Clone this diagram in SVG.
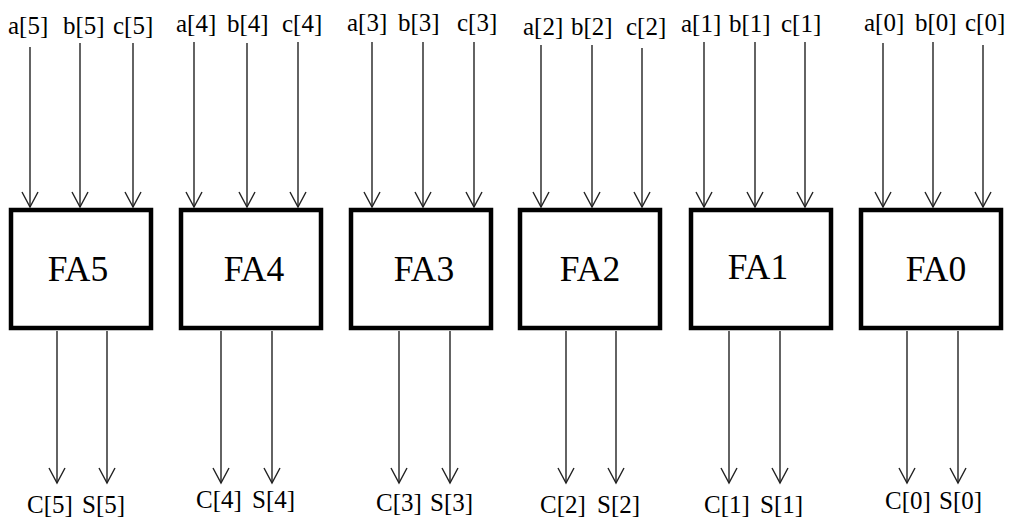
<svg xmlns="http://www.w3.org/2000/svg" width="1009" height="520" viewBox="0 0 1009 520">
  <style>
    .blk { fill: #fff; stroke: #000; stroke-width: 4.5; }
    .name { font-size: 35.5px; fill: #000; text-anchor: middle; }
    .lbl { font-size: 25px; fill: #000; }
    .wire { stroke: #222; stroke-width: 1.4; fill: none; marker-end: url(#arr); }
  </style>
  <defs>
    <marker id="arr" markerUnits="userSpaceOnUse" markerWidth="20" markerHeight="20" refX="0" refY="0" orient="auto" overflow="visible">
      <path d="M -15 -8 L 0 0 L -15 8" fill="none" stroke="#222" stroke-width="1.4"/>
    </marker>
  </defs>
  <rect width="1009" height="520" fill="#fff"/>

  <!-- signal wires: a, b, c into each adder; carry and sum out -->
  <g id="connectors">
    <line class="wire" x1="30" y1="47" x2="30" y2="207"/>
    <line class="wire" x1="80" y1="43" x2="80" y2="207"/>
    <line class="wire" x1="133" y1="43" x2="133" y2="207"/>
    <line class="wire" x1="194" y1="42" x2="194" y2="207"/>
    <line class="wire" x1="247" y1="43" x2="247" y2="207"/>
    <line class="wire" x1="298" y1="42" x2="298" y2="207"/>
    <line class="wire" x1="372" y1="42" x2="372" y2="207"/>
    <line class="wire" x1="423" y1="42" x2="423" y2="207"/>
    <line class="wire" x1="474" y1="42" x2="474" y2="207"/>
    <line class="wire" x1="541" y1="45" x2="541" y2="207"/>
    <line class="wire" x1="592" y1="45" x2="592" y2="207"/>
    <line class="wire" x1="642" y1="48" x2="642" y2="207"/>
    <line class="wire" x1="704" y1="42" x2="704" y2="207"/>
    <line class="wire" x1="755" y1="42" x2="755" y2="207"/>
    <line class="wire" x1="805" y1="42" x2="805" y2="207"/>
    <line class="wire" x1="883" y1="43" x2="883" y2="207"/>
    <line class="wire" x1="933" y1="42" x2="933" y2="207"/>
    <line class="wire" x1="983" y1="45" x2="983" y2="207"/>

    <line class="wire" x1="57" y1="331" x2="57" y2="483"/>
    <line class="wire" x1="107" y1="331" x2="107" y2="483"/>
    <line class="wire" x1="221" y1="331" x2="221" y2="483"/>
    <line class="wire" x1="272" y1="331" x2="272" y2="483"/>
    <line class="wire" x1="399" y1="331" x2="399" y2="483"/>
    <line class="wire" x1="450" y1="331" x2="450" y2="483"/>
    <line class="wire" x1="566" y1="331" x2="566" y2="483"/>
    <line class="wire" x1="616" y1="331" x2="616" y2="483"/>
    <line class="wire" x1="729" y1="331" x2="729" y2="483"/>
    <line class="wire" x1="780" y1="331" x2="780" y2="483"/>
    <line class="wire" x1="907" y1="331" x2="907" y2="483"/>
    <line class="wire" x1="958" y1="331" x2="958" y2="483"/>
  </g>

  <g font-family="'Liberation Serif', 'DejaVu Serif', serif">
  <g id="fa5">
    <rect class="blk" x="11" y="210" width="140" height="118"/>
    <text class="name" x="78" y="281">FA5</text>
    <text class="lbl" x="8" y="34">a[5]</text>
    <text class="lbl" x="63" y="34">b[5]</text>
    <text class="lbl" x="113" y="34">c[5]</text>
    <text class="lbl" x="27" y="513">C[5]</text>
    <text class="lbl" x="82" y="513">S[5]</text>
  </g>

  <g id="fa4">
    <rect class="blk" x="181" y="210" width="140" height="118"/>
    <text class="name" x="254" y="281">FA4</text>
    <text class="lbl" x="176" y="32">a[4]</text>
    <text class="lbl" x="227" y="32">b[4]</text>
    <text class="lbl" x="282" y="32">c[4]</text>
    <text class="lbl" x="196" y="508">C[4]</text>
    <text class="lbl" x="252" y="508">S[4]</text>
  </g>

  <g id="fa3">
    <rect class="blk" x="351" y="210" width="140" height="118"/>
    <text class="name" x="424" y="281">FA3</text>
    <text class="lbl" x="347" y="31">a[3]</text>
    <text class="lbl" x="398" y="31">b[3]</text>
    <text class="lbl" x="457" y="31">c[3]</text>
    <text class="lbl" x="376" y="511">C[3]</text>
    <text class="lbl" x="430" y="511">S[3]</text>
  </g>

  <g id="fa2">
    <rect class="blk" x="520" y="210" width="140" height="118"/>
    <text class="name" x="590" y="281">FA2</text>
    <text class="lbl" x="523" y="35">a[2]</text>
    <text class="lbl" x="571" y="35">b[2]</text>
    <text class="lbl" x="626" y="35">c[2]</text>
    <text class="lbl" x="540" y="513">C[2]</text>
    <text class="lbl" x="597" y="513">S[2]</text>
  </g>

  <g id="fa1">
    <rect class="blk" x="691" y="210" width="140" height="118"/>
    <text class="name" x="758" y="279">FA1</text>
    <text class="lbl" x="681" y="32">a[1]</text>
    <text class="lbl" x="729" y="32">b[1]</text>
    <text class="lbl" x="781" y="32">c[1]</text>
    <text class="lbl" x="704" y="513">C[1]</text>
    <text class="lbl" x="760" y="513">S[1]</text>
  </g>

  <g id="fa0">
    <rect class="blk" x="861" y="210" width="140" height="118"/>
    <text class="name" x="936" y="281">FA0</text>
    <text class="lbl" x="864" y="31">a[0]</text>
    <text class="lbl" x="915" y="31">b[0]</text>
    <text class="lbl" x="965" y="31">c[0]</text>
    <text class="lbl" x="885" y="509">C[0]</text>
    <text class="lbl" x="939" y="509">S[0]</text>
  </g>
  </g>
</svg>
